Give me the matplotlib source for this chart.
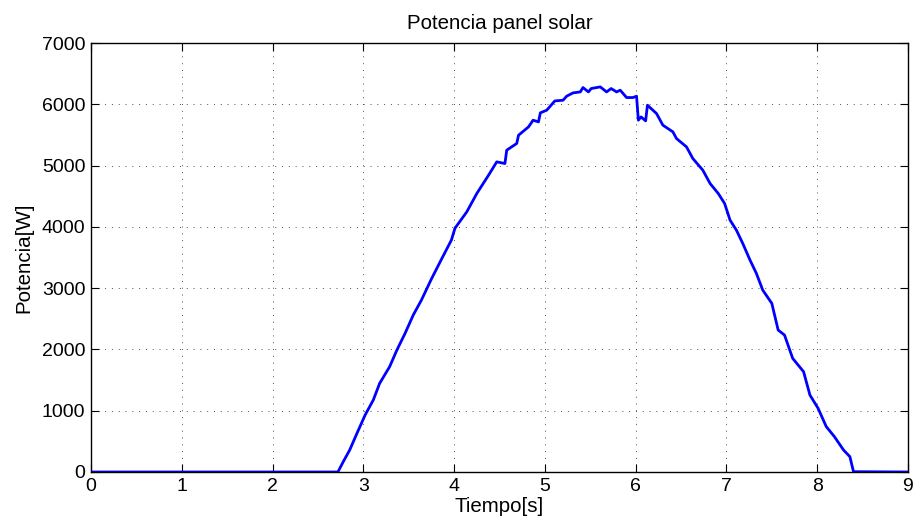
import matplotlib.pyplot as plt

# curve (time [s], power [W])
tiempo = [0.0, 2.72, 2.78, 2.85, 2.93, 3.02, 3.11, 3.18, 3.29, 3.37, 3.46, 3.55, 3.64,
          3.75, 3.86, 3.97, 4.01, 4.14, 4.25, 4.38, 4.47, 4.56, 4.58, 4.69, 4.71,
          4.82, 4.87, 4.93, 4.95, 5.02, 5.11, 5.20, 5.24, 5.31, 5.39, 5.42, 5.48,
          5.51, 5.61, 5.68, 5.73, 5.79, 5.83, 5.90, 5.97, 6.01, 6.03, 6.06, 6.11,
          6.13, 6.23, 6.30, 6.41, 6.45, 6.56, 6.63, 6.74, 6.82, 6.91, 6.98, 7.04,
          7.11, 7.18, 7.26, 7.33, 7.40, 7.50, 7.57, 7.64, 7.73, 7.85, 7.92, 8.01,
          8.10, 8.19, 8.29, 8.36, 8.40, 9.0]
potencia = [0, 0, 170, 359, 631, 930, 1175, 1447, 1719, 1991, 2263, 2562, 2806,
            3150, 3470, 3785, 3980, 4247, 4546, 4846, 5063, 5036, 5254, 5363, 5498,
            5634, 5743, 5716, 5863, 5906, 6058, 6069, 6135, 6189, 6205, 6276, 6205,
            6260, 6287, 6205, 6260, 6205, 6233, 6113, 6113, 6135, 5743, 5797, 5732,
            5988, 5852, 5662, 5553, 5444, 5308, 5118, 4927, 4710, 4547, 4384, 4112,
            3948, 3731, 3459, 3242, 2970, 2753, 2317, 2235, 1855, 1637, 1256, 1039,
            740, 576, 359, 250, 5, 0]

x_ticks = list(range(0, 10))
y_ticks = list(range(0, 7001, 1000))

plt.rcParams['font.family'] = ['Liberation Sans', 'DejaVu Sans']
plt.rcParams['font.size'] = 14

fig = plt.figure(figsize=(9.19, 5.27), dpi=100)
ax = fig.add_axes([0.099, 0.1044, 0.889, 0.8136])

ax.plot(tiempo, potencia, color='#0000ff', lw=2)

ax.set_xlim(0, 9)
ax.set_ylim(0, 7000)
ax.set_xticks(x_ticks)
ax.set_yticks(y_ticks)
ax.grid(True, linestyle=(0, (1, 6)), color='#505050', lw=0.7)
ax.tick_params(direction='in', length=6, width=0.8, top=True, right=True, pad=4)
for s in ax.spines.values():
    s.set_linewidth(1)

ax.set_title('Potencia panel solar', fontsize=14.8, pad=10)
ax.set_xlabel('Tiempo[s]', fontsize=14.8, labelpad=2)
ax.set_ylabel('Potencia[W]', fontsize=14.8, labelpad=6)

fig.savefig('out.png', dpi=100)
